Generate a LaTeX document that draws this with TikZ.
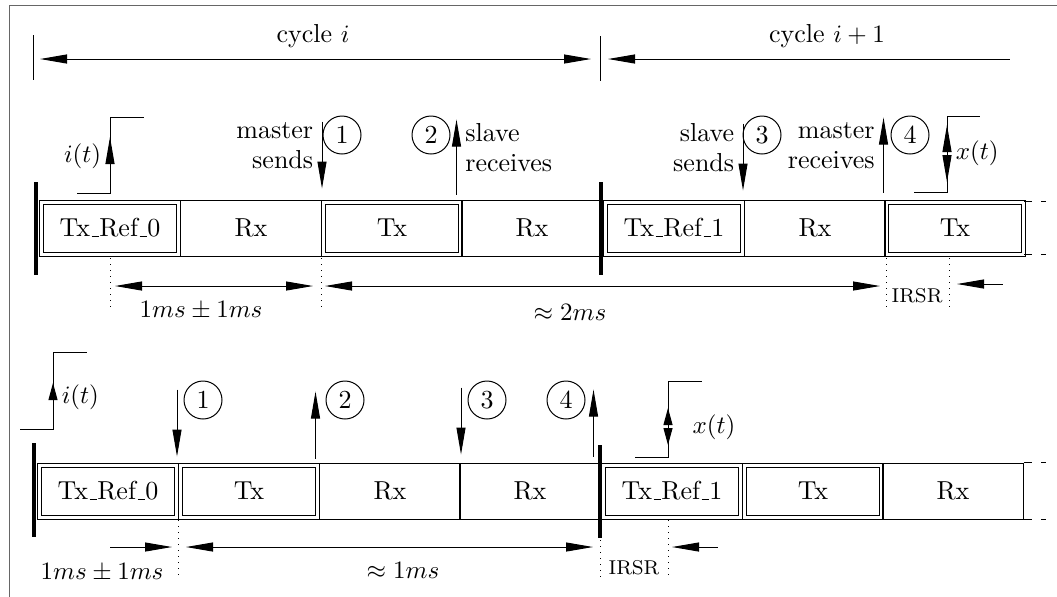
\documentclass[tikz,border=0pt]{standalone}
\usetikzlibrary{arrows.meta}
\newcommand{\usc}{\leavevmode\kern.06em\vbox{\hrule width.3em}}
\begin{document}
\begin{tikzpicture}[x=0.4pt,y=-0.4pt,>={Triangle[length=10.8pt,width=3.6pt]},
  every node/.style={font=\fontsize{10.4}{12}\selectfont},
  slot/.style={draw,minimum width=56.4pt,minimum height=22.4pt,inner sep=0pt},
  txslot/.style={slot,double,double distance=1.2pt,minimum width=54.8pt,minimum height=20.8pt},
  num/.style={draw,circle,minimum size=15.2pt,inner sep=0pt},
  bar/.style={line width=1.4pt},
  guide/.style={dotted},
  dashtail/.style={dash pattern=on 3.2pt off 3.6pt},
  shorttip/.style={>={Triangle[length=6.8pt,width=3.6pt]}}]
  \useasboundingbox (0,0) rectangle (1057,596);
  \draw[black!60] (9,5) rectangle (1080,620);

  % cycle ruler
  \draw (33,35) -- (33,80);
  \draw (600,36) -- (600,81);
  \draw[<->] (40,59) -- (591,59);
  \draw[<-] (608,59) -- (1010,59);
  \node at (313,36) {cycle $i$};
  \node at (827,36) {cycle $i+1$};

  % upper frame sequence
  \foreach \n/\cx/\lab in {t1/110/Tx\usc Ref\usc 0,t3/392/Tx,t5/674/Tx\usc Ref\usc 1,t7/955/Tx}
    \node[txslot] (\n) at (\cx,228) {\lab};
  \foreach \n/\cx in {t2/251,t4/532,t6/815}
    \node[slot] (\n) at (\cx,228) {Rx};
  \draw[bar] (36,182) -- (36,275);
  \draw[bar] (601,182) -- (601,275);
  \draw[dashtail] (t7.north east) -- ++(22,0);
  \draw[dashtail] (t7.south east) -- ++(22,0);

  % lower frame sequence
  \foreach \n/\cx/\lab in {b1/108/Tx\usc Ref\usc 0,b2/249/Tx,b5/672/Tx\usc Ref\usc 1,b6/813/Tx}
    \node[txslot] (\n) at (\cx,491) {\lab};
  \foreach \n/\cx in {b3/390,b4/530,b7/953}
    \node[slot] (\n) at (\cx,491) {Rx};
  \draw[bar] (34,443) -- (34,537);
  \draw[bar] (600,445) -- (600,538);
  \draw[dashtail] (b7.north east) -- ++(22,0);
  \draw[dashtail] (b7.south east) -- ++(22,0);

  % upper signals
  \draw (77,193) -- (110,193) coordinate (it) -- (110,117) -- (144,117);
  \draw[->] (it) -- node[pos=.65,left] {$i(t)$} (110,137);
  \draw[->] ([yshift=31.2pt]t2.north east) -- node[pos=.36,left,align=right] {master\\sends} ([yshift=4.4pt]t2.north east);
  \draw[->] ([xshift=-1.8pt,yshift=2.8pt]t3.north east) -- node[pos=.63,right,align=left] {slave\\receives} ([xshift=-1.8pt,yshift=32.8pt]t3.north east);
  \draw[->] ([yshift=31.2pt]t5.north east) -- node[pos=.36,left,align=right] {slave\\sends} ([yshift=4.4pt]t5.north east);
  \draw[->] ([xshift=-1pt,yshift=2.8pt]t6.north east) -- node[pos=.63,left,align=right] {master\\receives} ([xshift=-1pt,yshift=32.8pt]t6.north east);
  \draw (914,192) -- (947,192) coordinate (xt) -- (947,116) -- (980,116);
  \draw[<->] (947,125) -- node[right] {$x(t)$} (947,182);
  \node[num] (n1) at (342,135) {1};
  \node[num] (n2) at (431,135) {2};
  \node[num] (n3) at (762,135) {3};
  \node[num] (n4) at (910,135) {4};

  % lower signals
  \draw (20,429) -- (53,429) coordinate (ib) -- (53,352) -- (87,352);
  \draw[shorttip,->] (ib) -- node[pos=.7,right] {$i(t)$} (53,383);
  \draw[->] ([yshift=30pt]b1.north east) -- ([yshift=3.2pt]b1.north east);
  \draw[->] ([xshift=-1pt,yshift=2.4pt]b2.north east) -- ([xshift=-1pt,yshift=29.2pt]b2.north east);
  \draw[->] ([yshift=30pt]b3.north east) -- ([yshift=3.2pt]b3.north east);
  \draw[->] ([xshift=-3pt,yshift=2.4pt]b4.north east) -- ([xshift=-3pt,yshift=29.2pt]b4.north east);
  \draw (635,457) -- (668,457) -- (668,381) -- (702,381);
  \draw[shorttip,<->] (668,408) -- (668,445);
  \node at (714,427) {$x(t)$};
  \node[num] (m1) at (203,400) {1};
  \node[num] (m2) at (345,400) {2};
  \node[num] (m3) at (487,400) {3};
  \node[num] (m4) at (566,400) {4};

  % upper timing
  \foreach \gx in {110,321,886,949}
    \draw[guide] (\gx,258) -- (\gx,309);
  \draw[<->] (115,286) -- (313,286);
  \draw[<->] (325,286) -- (880,286);
  \draw[<-] (957,284) -- (1003,284);
  \node at (201,310) {$1ms\pm1ms$};
  \node at (570,312) {$\approx 2ms$};
  \node[font=\footnotesize] at (917,296) {IRSR};

  % lower timing
  \foreach \gx in {178,668}
    \draw[guide] (\gx,520) -- (\gx,580);
  \draw[guide] (600,540) -- (600,580);
  \draw[->] (110,547) -- (172,547);
  \draw[<->] (186,547) -- (593,547);
  \draw[<-] (672,547) -- (718,547);
  \node at (102,572) {$1ms\pm1ms$};
  \node at (403,570) {$\approx 1ms$};
  \node[font=\footnotesize] at (634,568) {IRSR};
\end{tikzpicture}
\end{document}
